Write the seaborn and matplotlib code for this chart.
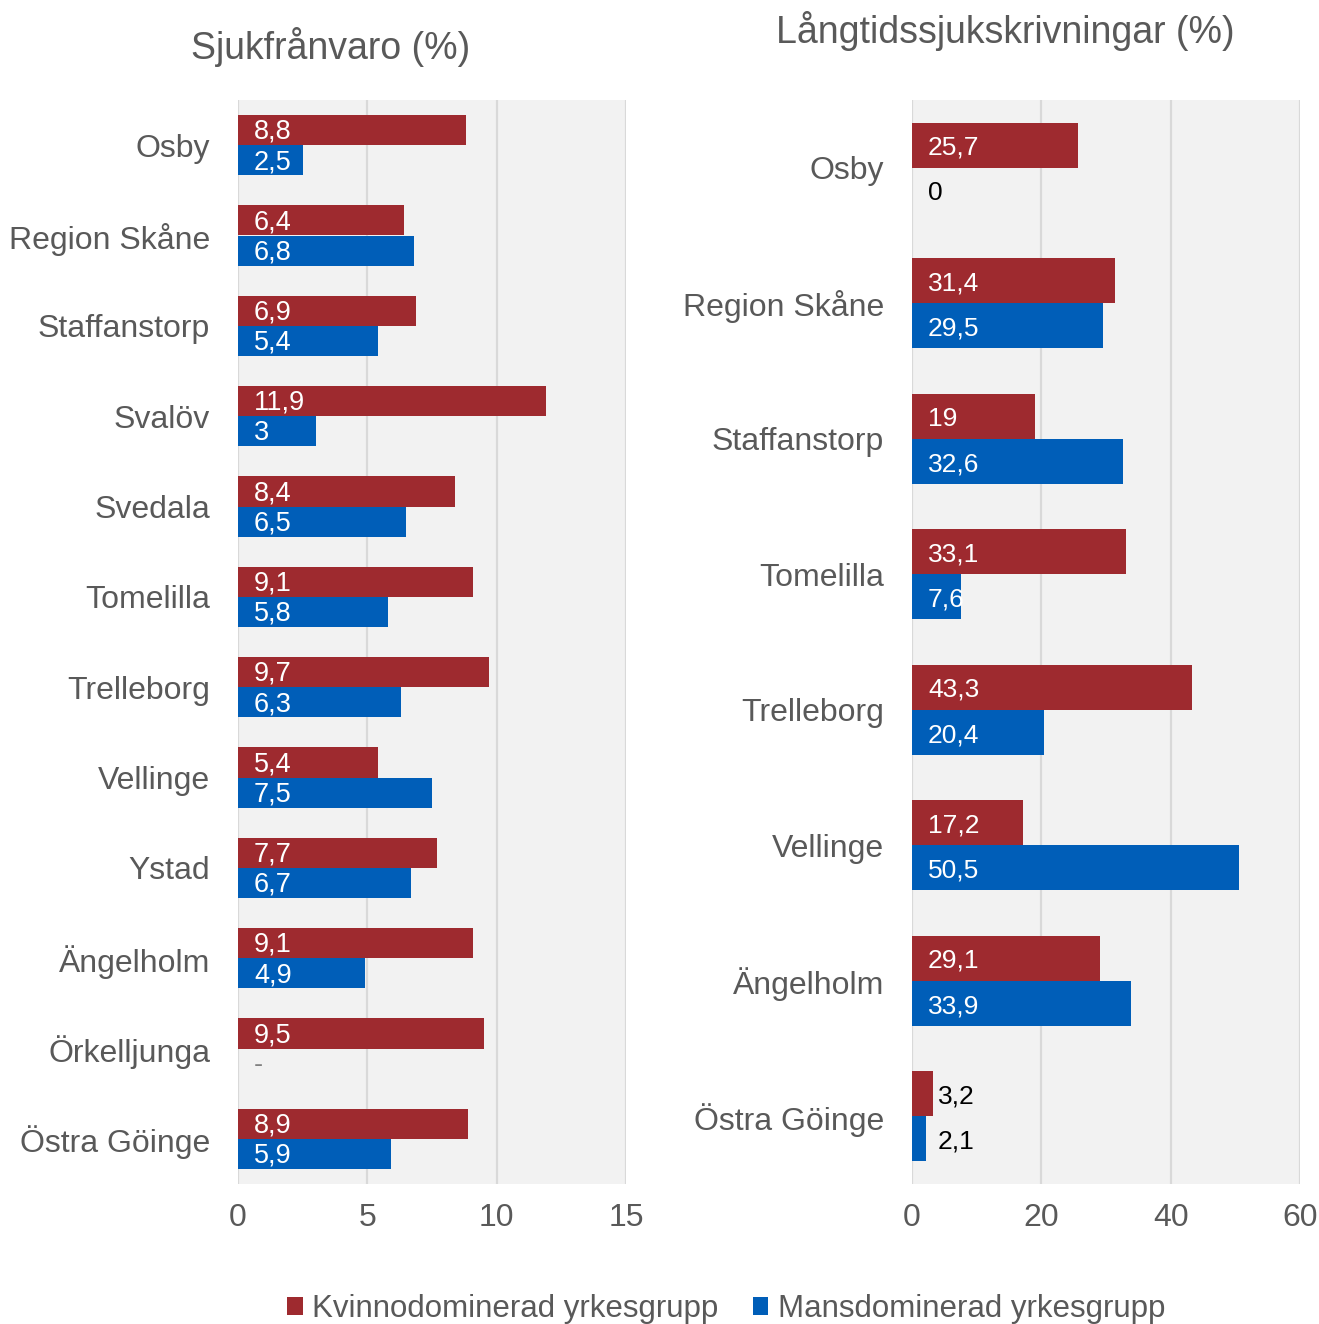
import matplotlib
matplotlib.use('Agg')
import matplotlib.pyplot as plt
import seaborn as sns
import pandas as pd
import numpy as np
from matplotlib.patches import Patch

plt.rcParams['font.family'] = ['Liberation Sans', 'DejaVu Sans']

RED = '#9E2A2F'
BLUE = '#005EB8'
GREY_TXT = '#595959'
GRID = '#D9D9D9'
BG = '#F2F2F2'

series = ['Kvinnodominerad yrkesgrupp', 'Mansdominerad yrkesgrupp']

left_title = 'Sjukfrånvaro (%)'
left_categories = ['Osby', 'Region Skåne', 'Staffanstorp', 'Svalöv', 'Svedala',
                   'Tomelilla', 'Trelleborg', 'Vellinge', 'Ystad', 'Ängelholm',
                   'Örkelljunga', 'Östra Göinge']
left_women = [8.8, 6.4, 6.9, 11.9, 8.4, 9.1, 9.7, 5.4, 7.7, 9.1, 9.5, 8.9]
left_men = [2.5, 6.8, 5.4, 3.0, 6.5, 5.8, 6.3, 7.5, 6.7, 4.9, None, 5.9]
left_ticks = [0, 5, 10, 15]

right_title = 'Långtidssjukskrivningar (%)'
right_categories = ['Osby', 'Region Skåne', 'Staffanstorp', 'Tomelilla',
                    'Trelleborg', 'Vellinge', 'Ängelholm', 'Östra Göinge']
right_women = [25.7, 31.4, 19, 33.1, 43.3, 17.2, 29.1, 3.2]
right_men = [0, 29.5, 32.6, 7.6, 20.4, 50.5, 33.9, 2.1]
right_ticks = [0, 20, 40, 60]


def fmt(v):
    return f"{v:g}".replace('.', ',')


def make_df(cats, women, men):
    vals = [np.nan if v is None else v for v in women + men]
    df = pd.DataFrame({
        'kategori': cats * 2,
        'grupp': [series[0]] * len(cats) + [series[1]] * len(cats),
        'värde': vals,
    })
    df['plot'] = df['värde'].fillna(0)
    return df


def draw(ax, cats, women, men, ticks, inside_min, label_size):
    df = make_df(cats, women, men)
    sns.barplot(data=df, y='kategori', x='plot', hue='grupp', order=cats,
                hue_order=series, palette=[RED, BLUE], orient='h',
                width=0.667, dodge=True, saturation=1, linewidth=0,
                legend=False, errorbar=None, ax=ax)
    ax.set_facecolor(BG)
    ax.set_xlim(ticks[0], ticks[-1])
    ax.set_xticks(ticks)
    ax.set_ylim(len(cats) - 0.5, -0.5)
    ax.grid(axis='x', color=GRID, lw=1.6)
    ax.grid(axis='y', visible=False)
    ax.set_axisbelow(True)
    for s in ax.spines.values():
        s.set_visible(False)
    ax.set_xlabel('')
    ax.set_ylabel('')
    ax.tick_params(axis='both', length=0, labelsize=23, colors=GREY_TXT)
    ax.tick_params(axis='y', pad=20)
    ax.tick_params(axis='x', pad=14)

    # pixel position for outside labels: just past the longer small bar
    for ci, (container, vals) in enumerate(zip(ax.containers, [women, men])):
        for i, (patch, v) in enumerate(zip(container, vals)):
            yc = patch.get_y() + patch.get_height() / 2 + 0.02
            if v is None:
                ax.annotate('-', xy=(0, yc), xytext=(16, 0),
                            textcoords='offset pixels', va='center', ha='left',
                            color='#808080', fontsize=label_size)
            elif v == 0:
                ax.annotate(fmt(v), xy=(0, yc), xytext=(16, 0),
                            textcoords='offset pixels', va='center', ha='left',
                            color='black', fontsize=label_size)
            elif v < inside_min:
                pair_max = max(x for x in (women[i], men[i]) if x is not None)
                ax.annotate(fmt(v), xy=(pair_max, yc), xytext=(5, 0),
                            textcoords='offset pixels', va='center', ha='left',
                            color='black', fontsize=label_size)
            else:
                ax.annotate(fmt(v), xy=(0, yc), xytext=(16, 0),
                            textcoords='offset pixels', va='center', ha='left',
                            color='white', fontsize=label_size)


fig = plt.figure(figsize=(13.19, 13.24), dpi=100)
W, H = 1319, 1324
ax1 = fig.add_axes([238 / W, 1 - 1184 / H, 388 / W, 1084 / H])
ax2 = fig.add_axes([912 / W, 1 - 1184 / H, 388 / W, 1084 / H])

draw(ax1, left_categories, left_women, left_men, left_ticks, 2.0, 19.5)
draw(ax2, right_categories, right_women, right_men, right_ticks, 5.0, 19)

fig.text(331 / W, 1 - 47 / H, left_title, ha='center', va='center',
         fontsize=27, color=GREY_TXT)
fig.text(1005 / W, 1 - 31 / H, right_title, ha='center', va='center',
         fontsize=27, color=GREY_TXT)

handles = [Patch(facecolor=RED, edgecolor='none'), Patch(facecolor=BLUE, edgecolor='none')]
leg = fig.legend(handles, series, loc='center', bbox_to_anchor=(726 / W, 1 - 1309 / H),
                 ncol=2, frameon=False, fontsize=22.5, handlelength=0.5,
                 handleheight=0.55, handletextpad=0.3, columnspacing=1.1)
for t in leg.get_texts():
    t.set_color(GREY_TXT)

fig.savefig('out.png', dpi=100)
